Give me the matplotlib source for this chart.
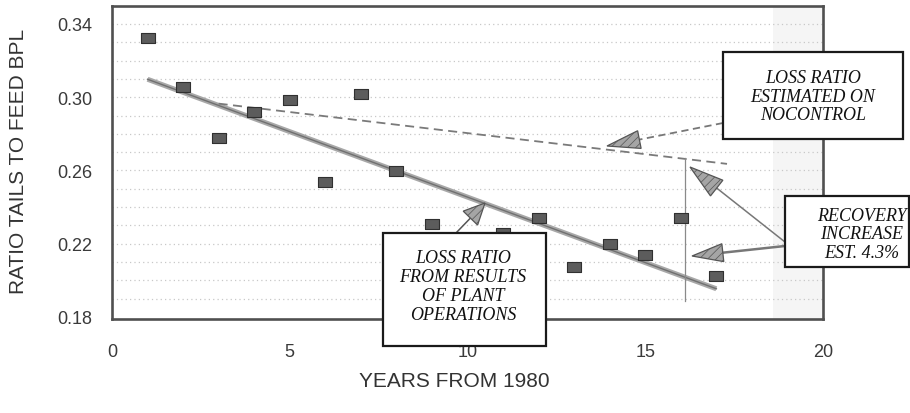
import matplotlib
matplotlib.use("Agg")
import matplotlib.pyplot as plt
from matplotlib.path import Path
from matplotlib.patches import Rectangle, Polygon
import numpy as np

plt.rcParams["font.family"] = ["Liberation Sans", "DejaVu Sans"]
plt.rcParams["hatch.linewidth"] = 0.5

# ---------------- data ----------------
years = [1, 2, 3, 4, 5, 6, 7, 8, 9, 11, 12, 13, 14, 15, 16, 17]
ratio = [0.3323, 0.3058, 0.2779, 0.2918, 0.2984, 0.2539, 0.3017, 0.2599,
         0.2306, 0.2257, 0.2339, 0.2075, 0.2196, 0.2136, 0.2339, 0.2026]

plant_fit_x = [1, 17]
plant_fit_y = [0.3098, 0.1954]

nocontrol_x = [3.0, 17.3]
nocontrol_y = [0.2965, 0.2636]

gap_x = [16.12, 16.12]
gap_y = [0.2669, 0.1888]

xticks = [0, 5, 10, 15, 20]
yticks = [0.18, 0.22, 0.26, 0.30, 0.34]
ytick_labels = ["0.18", "0.22", "0.26", "0.30", "0.34"]
grid_levels = [round(0.19 + 0.01 * i, 2) for i in range(16)]

W, H = 910, 414
fig = plt.figure(figsize=(W / 100, H / 100), dpi=100)
fig.patch.set_facecolor("white")
ax = fig.add_axes([112 / W, 1 - 320 / H, 711 / W, 313 / H])
ax.set_xlim(0, 20)
ax.set_ylim(0.1789, 0.3498)

for s in ax.spines.values():
    s.set_linewidth(1.9)
    s.set_color("#505050")

ax.axvspan(18.6, 20, color="#f5f5f5", zorder=0, lw=0)
for g in grid_levels:
    ax.axhline(g, color="#c8c8c8", lw=0.9, ls=(0, (1, 2.5)), zorder=1)

ax.set_xticks(xticks)
ax.set_yticks(yticks)
ax.set_yticklabels(ytick_labels)
ax.tick_params(axis="both", length=0, labelsize=13, labelcolor="#3a3a3a")
ax.tick_params(axis="x", pad=17)
ax.tick_params(axis="y", pad=14)

ax.set_xlabel("YEARS FROM 1980", fontsize=15, color="#333333")
ax.xaxis.set_label_coords(0.482, -0.165)
ax.set_ylabel("RATIO TAILS TO FEED BPL", fontsize=15, color="#333333")
ax.yaxis.set_label_coords(-0.118, 0.505)

# lines
ax.plot(plant_fit_x, plant_fit_y, color="#a8a8a8", lw=3.6, zorder=3, solid_capstyle="butt")
ax.plot(plant_fit_x, plant_fit_y, color="#707070", lw=1.0, zorder=3)
ax.plot(nocontrol_x, nocontrol_y, color="#7a7a7a", lw=1.3, ls=(0, (5, 3)), zorder=3)
ax.plot(gap_x, gap_y, color="#8a8a8a", lw=0.9, zorder=3)

sq = Path([(-1.3, -1), (1.3, -1), (1.3, 1), (-1.3, 1), (-1.3, -1)])
ax.plot(years, ratio, ls="none", marker=sq, markersize=9.5,
        markerfacecolor="#5c5c5c", markeredgecolor="#303030", markeredgewidth=0.8, zorder=4)


# ---------------- annotations (figure pixel helpers) ----------------
def fp(x, y):
    return (x / W, 1 - y / H)


def box(x0, y0, x1, y1, lines, cx, cy):
    r = Rectangle(fp(x0, y1), (x1 - x0) / W, (y1 - y0) / H, transform=fig.transFigure,
                  facecolor="white", edgecolor="#1a1a1a", lw=1.6, zorder=10)
    fig.add_artist(r)
    fig.text(cx / W, 1 - cy / H, "\n".join(lines), ha="center", va="center",
             family="Liberation Serif", style="italic", fontsize=13, color="#111111",
             linespacing=1.13, zorder=11)


def arrow(tail, tip, hl, hw, ls="-", lw=1.2, color="#777777"):
    tail = np.array(tail, float)
    tip = np.array(tip, float)
    d = (tip - tail) / np.linalg.norm(tip - tail)
    n = np.array([-d[1], d[0]])
    base = tip - d * hl
    fig.add_artist(plt.Line2D([tail[0] / W, base[0] / W], [1 - tail[1] / H, 1 - base[1] / H],
                              transform=fig.transFigure, color=color, lw=lw, ls=ls, zorder=9))
    pts = [tip, base + n * hw / 2, base - n * hw / 2]
    poly = Polygon([fp(*p) for p in pts], closed=True, transform=fig.transFigure,
                   facecolor="#a5a5a5", edgecolor="#555555", lw=0.9, hatch="////", zorder=9)
    fig.add_artist(poly)


box(723, 53, 903, 140, ["LOSS RATIO", "ESTIMATED ON", "NOCONTROL"], 813, 97)
box(785, 197, 909, 268, ["RECOVERY", "INCREASE", "EST. 4.3%"], 862, 235)
box(383, 234, 546, 347, ["LOSS RATIO", "FROM RESULTS", "OF PLANT", "OPERATIONS"], 463, 287)

arrow((723, 124), (607, 147), 33, 18, ls=(0, (4, 2.5)), lw=1.3)
arrow((785, 243), (690, 168), 34, 20, lw=1.1)
arrow((785, 247), (692, 257), 31, 18, lw=1.8)
arrow((456, 234), (485, 204), 21, 20, lw=1.1, color="#555555")

fig.savefig("out.png", dpi=100, facecolor="white")
